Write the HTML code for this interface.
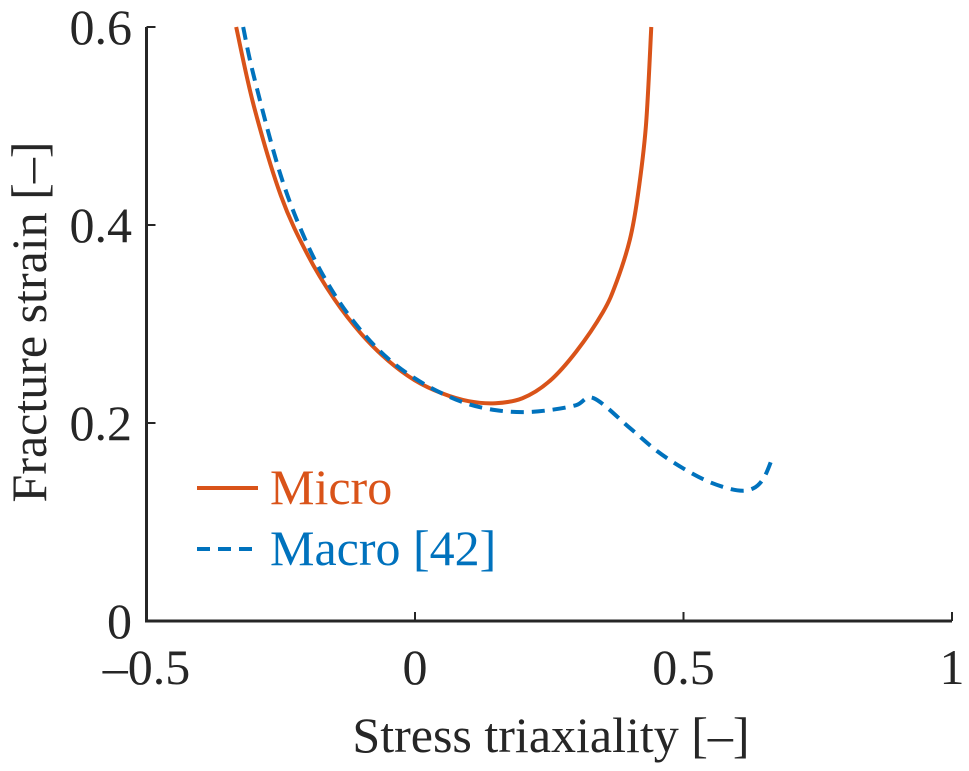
<!DOCTYPE html>
<html><head><meta charset="utf-8"><style>
body{margin:0;background:#fff}
text{font-family:"Liberation Serif","Times New Roman",serif;fill:#262626}
</style></head><body>
<svg id="chart" width="969" height="766" viewBox="0 0 969 766" xmlns="http://www.w3.org/2000/svg">
<g id="axes"></g>
<g id="series"></g>
<g>
<line x1="197" y1="488" x2="258" y2="488" stroke="#D95319" stroke-width="4"/>
<text x="270" y="504" font-size="50" style="fill:#D95319">Micro</text>
<line x1="197" y1="549" x2="258" y2="549" stroke="#0072BD" stroke-width="4" stroke-dasharray="13,8"/>
<text x="270" y="565" font-size="50" style="fill:#0072BD">Macro [42]</text>
</g>
<text x="551" y="752" font-size="50" text-anchor="middle">Stress triaxiality [–]</text>
<text transform="translate(46,322) rotate(-90)" font-size="50" text-anchor="middle">Fracture strain [–]</text>
</svg>
<script>
const xTicks=[-0.5,0,0.5,1];
const xTickLabels=["–0.5","0","0.5","1"];
const yTicks=[0,0.2,0.4,0.6];
const yTickLabels=["0","0.2","0.4","0.6"];
const microX=[-0.333,-0.3,-0.25,-0.2,-0.15,-0.1,-0.05,0,0.05,0.1,0.15,0.2,0.25,0.3,0.35,0.375,0.4,0.415,0.43,0.44];
const microY=[0.6,0.52,0.43,0.37,0.325,0.29,0.263,0.243,0.23,0.222,0.22,0.225,0.242,0.272,0.312,0.342,0.385,0.43,0.5,0.6];
const macroX=[-0.32,-0.3,-0.25,-0.2,-0.15,-0.1,-0.05,0,0.05,0.1,0.15,0.2,0.25,0.3,0.333,0.4,0.45,0.5,0.55,0.6,0.63,0.65,0.667];
const macroY=[0.6,0.55,0.45,0.38,0.33,0.293,0.265,0.245,0.23,0.219,0.213,0.211,0.213,0.218,0.225,0.195,0.172,0.154,0.14,0.132,0.134,0.145,0.167];
const NS="http://www.w3.org/2000/svg";
const sx=v=>415+v*537, sy=v=>621-v*990;
const axes=document.getElementById('axes'), series=document.getElementById('series');
function mk(t,a,p){const e=document.createElementNS(NS,t);for(const k in a)e.setAttribute(k,a[k]);p.appendChild(e);return e;}
let e=mk('path',{d:`M${sx(-0.5)},${sy(0.6)} V${sy(0)} H${sx(1)}`,fill:'none',stroke:'#262626','stroke-width':3},axes);


xTicks.forEach((v,i)=>{
 const l=mk('line',{x1:sx(v),x2:sx(v),y1:sy(0),y2:sy(0)-9,stroke:'#262626','stroke-width':2},axes);
 
 
 const t=mk('text',{x:sx(v),y:684,'font-size':50,'text-anchor':'middle'},axes);
 t.textContent=xTickLabels[i];
 
 
});
yTicks.forEach((v,i)=>{
 const l=mk('line',{x1:sx(-0.5),x2:sx(-0.5)+9,y1:sy(v),y2:sy(v),stroke:'#262626','stroke-width':2},axes);
 
 
 const t=mk('text',{x:132,y:sy(v)+17,'font-size':50,'text-anchor':'end'},axes);
 t.textContent=yTickLabels[i];
 
 
});
function smooth(xs,ys){const p=xs.map((x,i)=>[sx(x),sy(ys[i])]);let d=`M${p[0][0]},${p[0][1]}`;
 for(let i=0;i<p.length-1;i++){const p0=p[i-1]||p[i],p1=p[i],p2=p[i+1],p3=p[i+2]||p2;
  d+=` C${p1[0]+(p2[0]-p0[0])/6},${p1[1]+(p2[1]-p0[1])/6} ${p2[0]-(p3[0]-p1[0])/6},${p2[1]-(p3[1]-p1[1])/6} ${p2[0]},${p2[1]}`;}return d;}
e=mk('path',{d:smooth(microX,microY),fill:'none',stroke:'#D95319','stroke-width':4},series);


e=mk('path',{d:smooth(macroX,macroY),fill:'none',stroke:'#0072BD','stroke-width':4,'stroke-dasharray':'13,8'},series);


</script>
</body></html>
